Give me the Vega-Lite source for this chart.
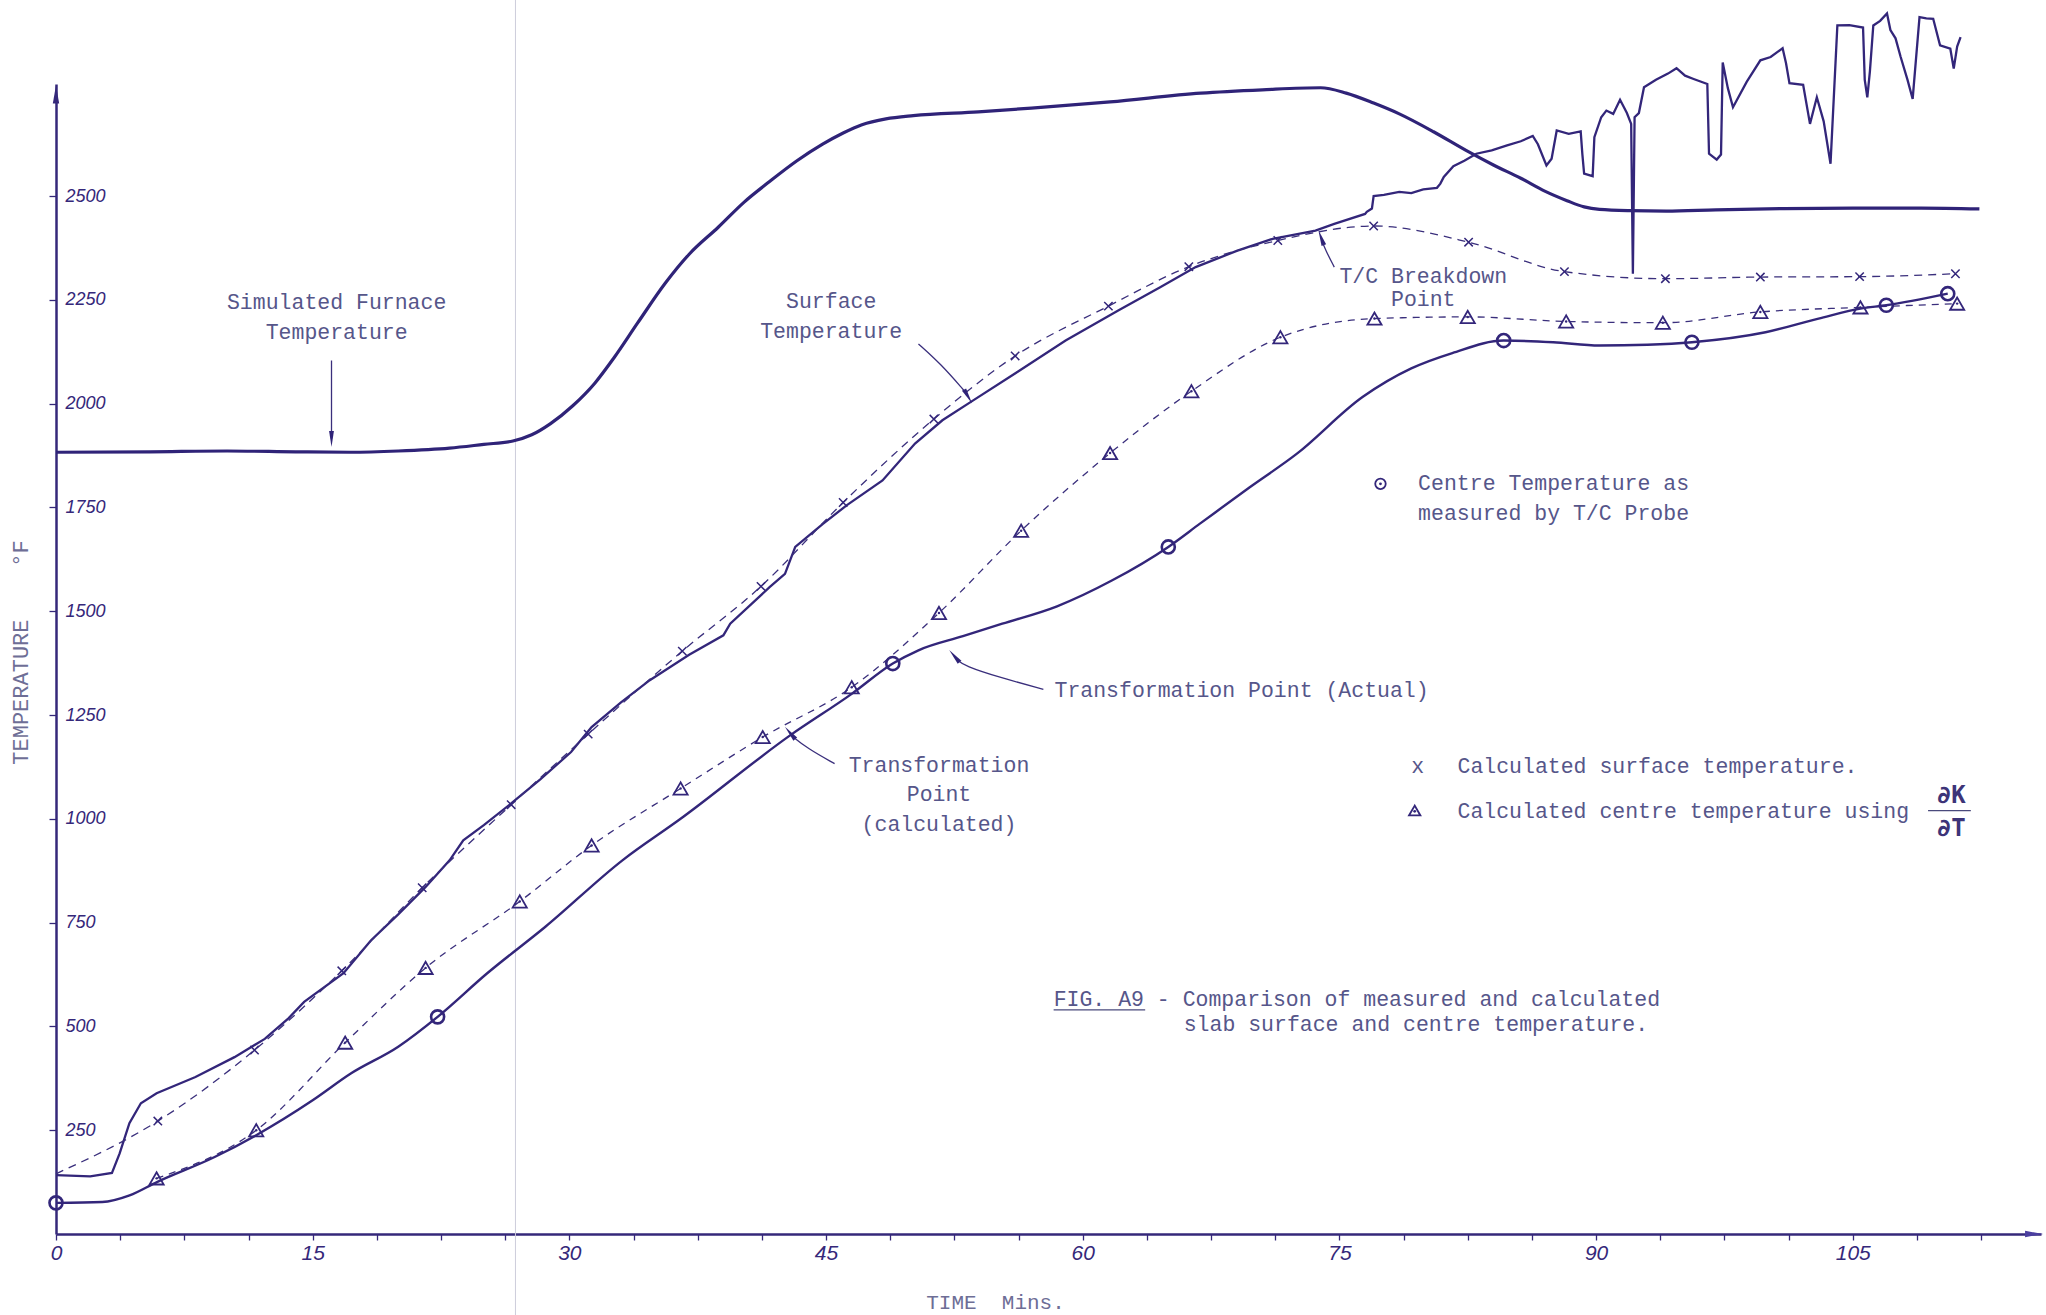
{
  "$schema": "https://vega.github.io/schema/vega-lite/v6.json",
  "width": 1985,
  "height": 1150,
  "autosize": {"type": "none"},
  "padding": {"left": 56, "top": 84, "right": 5, "bottom": 81},
  "background": "white",
  "config": {"view": {"stroke": null}, "axis": {"grid": false}},
  "datasets": {
    "crease": [{"x": 26.85, "y": -200, "y2": 2975}],
    "furnace": [
      {"x": 0, "y": 1883}, {"x": 5.5, "y": 1884}, {"x": 10, "y": 1886}, {"x": 14, "y": 1884}, {"x": 17.2, "y": 1883},
      {"x": 20, "y": 1886}, {"x": 23, "y": 1893}, {"x": 25, "y": 1902}, {"x": 26.7, "y": 1910}, {"x": 27.8, "y": 1925},
      {"x": 28.9, "y": 1952}, {"x": 30.2, "y": 1995}, {"x": 31.5, "y": 2050}, {"x": 32.6, "y": 2110}, {"x": 34, "y": 2195},
      {"x": 35.6, "y": 2290}, {"x": 37, "y": 2360}, {"x": 38.7, "y": 2425}, {"x": 40.2, "y": 2485}, {"x": 41.7, "y": 2535},
      {"x": 43.3, "y": 2585}, {"x": 44.8, "y": 2625}, {"x": 46, "y": 2652}, {"x": 47.1, "y": 2672}, {"x": 48.5, "y": 2686},
      {"x": 50.1, "y": 2694}, {"x": 53.9, "y": 2703}, {"x": 57, "y": 2712}, {"x": 61.6, "y": 2727}, {"x": 66.9, "y": 2748},
      {"x": 70.5, "y": 2756}, {"x": 73.9, "y": 2761}, {"x": 75.4, "y": 2748}, {"x": 77, "y": 2724}, {"x": 78.5, "y": 2698},
      {"x": 80.5, "y": 2655}, {"x": 82.4, "y": 2610}, {"x": 84, "y": 2575}, {"x": 85.6, "y": 2543}, {"x": 87, "y": 2512},
      {"x": 88.3, "y": 2489}, {"x": 89.3, "y": 2474}, {"x": 90.2, "y": 2468}, {"x": 92, "y": 2465}, {"x": 94.1, "y": 2464},
      {"x": 97, "y": 2467}, {"x": 101, "y": 2470}, {"x": 105, "y": 2471}, {"x": 109, "y": 2471}, {"x": 112.4, "y": 2469}
    ],
    "surf_meas": [
      {"x": 0, "y": 142}, {"x": 2.0, "y": 139}, {"x": 3.27, "y": 147}, {"x": 3.72, "y": 194}, {"x": 4.29, "y": 267},
      {"x": 4.96, "y": 315}, {"x": 5.88, "y": 339}, {"x": 8.15, "y": 378}, {"x": 10.43, "y": 426}, {"x": 12.2, "y": 470},
      {"x": 13.6, "y": 520}, {"x": 14.5, "y": 559}, {"x": 16.8, "y": 628}, {"x": 18.4, "y": 707}, {"x": 20, "y": 770},
      {"x": 21.6, "y": 836}, {"x": 23.0, "y": 900}, {"x": 23.8, "y": 948}, {"x": 25, "y": 985}, {"x": 26.6, "y": 1037},
      {"x": 28.3, "y": 1095}, {"x": 30.1, "y": 1161}, {"x": 31.3, "y": 1221}, {"x": 33, "y": 1280}, {"x": 34.7, "y": 1334},
      {"x": 37, "y": 1395}, {"x": 39.0, "y": 1442}, {"x": 39.4, "y": 1470}, {"x": 41.7, "y": 1558}, {"x": 42.6, "y": 1590},
      {"x": 43.2, "y": 1655}, {"x": 44.8, "y": 1710}, {"x": 46.2, "y": 1755}, {"x": 48.3, "y": 1815}, {"x": 50.2, "y": 1904},
      {"x": 51.8, "y": 1960}, {"x": 53.6, "y": 2008}, {"x": 56.2, "y": 2077}, {"x": 59.0, "y": 2152}, {"x": 62.1, "y": 2225},
      {"x": 64.5, "y": 2280}, {"x": 66.6, "y": 2329}, {"x": 69, "y": 2368}, {"x": 71.1, "y": 2397}, {"x": 73.6, "y": 2417},
      {"x": 74.7, "y": 2433}, {"x": 76.5, "y": 2457}, {"x": 76.6, "y": 2462}, {"x": 76.9, "y": 2470}, {"x": 77.0, "y": 2500},
      {"x": 77.6, "y": 2503}, {"x": 78.5, "y": 2510}, {"x": 79.2, "y": 2507}, {"x": 79.9, "y": 2516}, {"x": 80.7, "y": 2520},
      {"x": 80.9, "y": 2530}, {"x": 81.1, "y": 2546}, {"x": 81.66, "y": 2572}, {"x": 82.3, "y": 2585}, {"x": 83.0, "y": 2602},
      {"x": 83.9, "y": 2610}, {"x": 84.8, "y": 2622}, {"x": 85.6, "y": 2632}, {"x": 86.3, "y": 2645}, {"x": 86.6, "y": 2625},
      {"x": 87.1, "y": 2574}, {"x": 87.4, "y": 2590}, {"x": 87.7, "y": 2658}, {"x": 88.4, "y": 2650}, {"x": 89.1, "y": 2656},
      {"x": 89.2, "y": 2600}, {"x": 89.3, "y": 2554}, {"x": 89.8, "y": 2548}, {"x": 89.9, "y": 2642}, {"x": 90.3, "y": 2690},
      {"x": 90.6, "y": 2706}, {"x": 91.0, "y": 2698}, {"x": 91.4, "y": 2732}, {"x": 91.8, "y": 2700}, {"x": 92.05, "y": 2674},
      {"x": 92.15, "y": 2313}, {"x": 92.25, "y": 2690}, {"x": 92.5, "y": 2700}, {"x": 92.8, "y": 2762}, {"x": 93.5, "y": 2780},
      {"x": 94.2, "y": 2795}, {"x": 94.7, "y": 2808}, {"x": 95.2, "y": 2790}, {"x": 95.7, "y": 2782}, {"x": 96.5, "y": 2770},
      {"x": 96.6, "y": 2602}, {"x": 97.05, "y": 2588}, {"x": 97.3, "y": 2600}, {"x": 97.4, "y": 2822}, {"x": 97.7, "y": 2760},
      {"x": 98.0, "y": 2714}, {"x": 98.8, "y": 2775}, {"x": 99.6, "y": 2827}, {"x": 100.2, "y": 2835}, {"x": 100.9, "y": 2856},
      {"x": 101.1, "y": 2820}, {"x": 101.3, "y": 2772}, {"x": 102.1, "y": 2768}, {"x": 102.5, "y": 2674}, {"x": 102.9, "y": 2738},
      {"x": 103.3, "y": 2680}, {"x": 103.7, "y": 2578}, {"x": 104.1, "y": 2911}, {"x": 104.8, "y": 2912}, {"x": 105.6, "y": 2906},
      {"x": 105.7, "y": 2780}, {"x": 105.85, "y": 2738}, {"x": 106.0, "y": 2800}, {"x": 106.2, "y": 2911}, {"x": 106.6, "y": 2922},
      {"x": 107.0, "y": 2940}, {"x": 107.2, "y": 2900}, {"x": 107.5, "y": 2880}, {"x": 107.8, "y": 2835}, {"x": 108.2, "y": 2780},
      {"x": 108.5, "y": 2734}, {"x": 108.9, "y": 2931}, {"x": 109.3, "y": 2928}, {"x": 109.7, "y": 2927}, {"x": 110.1, "y": 2863},
      {"x": 110.7, "y": 2855}, {"x": 110.9, "y": 2807}, {"x": 111.1, "y": 2860}, {"x": 111.3, "y": 2883}
    ],
    "surf_calc": [
      {"x": 0, "y": 145}, {"x": 5.95, "y": 272}, {"x": 11.6, "y": 443}, {"x": 16.7, "y": 634}, {"x": 21.4, "y": 834},
      {"x": 26.6, "y": 1034}, {"x": 31.1, "y": 1204}, {"x": 36.6, "y": 1404}, {"x": 41.2, "y": 1560}, {"x": 46.0, "y": 1762},
      {"x": 51.3, "y": 1963}, {"x": 56.05, "y": 2115}, {"x": 61.5, "y": 2235}, {"x": 66.2, "y": 2330}, {"x": 71.4, "y": 2393},
      {"x": 77.0, "y": 2428}, {"x": 82.55, "y": 2389}, {"x": 88.15, "y": 2318}, {"x": 94.05, "y": 2301}, {"x": 99.6, "y": 2305},
      {"x": 105.4, "y": 2306}, {"x": 111.0, "y": 2313}
    ],
    "centre_calc": [
      {"x": 5.88, "y": 134}, {"x": 11.7, "y": 250}, {"x": 16.9, "y": 461}, {"x": 21.6, "y": 641}, {"x": 27.1, "y": 801},
      {"x": 31.3, "y": 936}, {"x": 36.5, "y": 1073}, {"x": 41.3, "y": 1197}, {"x": 46.5, "y": 1317}, {"x": 51.6, "y": 1496},
      {"x": 56.4, "y": 1694}, {"x": 61.6, "y": 1881}, {"x": 66.35, "y": 2030}, {"x": 71.55, "y": 2160}, {"x": 77.05, "y": 2205},
      {"x": 82.5, "y": 2209}, {"x": 88.25, "y": 2198}, {"x": 93.9, "y": 2195}, {"x": 99.6, "y": 2221}, {"x": 105.45, "y": 2232},
      {"x": 111.1, "y": 2241}
    ],
    "centre_meas": [
      {"x": 0, "y": 75}, {"x": 2.7, "y": 77}, {"x": 4.3, "y": 93}, {"x": 5.9, "y": 125}, {"x": 9.3, "y": 186},
      {"x": 11.7, "y": 238}, {"x": 15.0, "y": 322}, {"x": 17.25, "y": 387}, {"x": 20.0, "y": 451}, {"x": 22.3, "y": 523},
      {"x": 25.2, "y": 628}, {"x": 28.6, "y": 740}, {"x": 33.1, "y": 900}, {"x": 36.5, "y": 1000}, {"x": 42.9, "y": 1201},
      {"x": 46.5, "y": 1301}, {"x": 48.9, "y": 1374}, {"x": 50.4, "y": 1406}, {"x": 53, "y": 1440}, {"x": 55.3, "y": 1470},
      {"x": 58.5, "y": 1512}, {"x": 61.7, "y": 1574}, {"x": 65.0, "y": 1655}, {"x": 66.85, "y": 1711}, {"x": 69.7, "y": 1797},
      {"x": 72.5, "y": 1879}, {"x": 76.35, "y": 2016}, {"x": 79.2, "y": 2085}, {"x": 81.6, "y": 2122}, {"x": 84.6, "y": 2152},
      {"x": 87.5, "y": 2148}, {"x": 90.2, "y": 2140}, {"x": 93, "y": 2142}, {"x": 95.6, "y": 2148}, {"x": 99.9, "y": 2172},
      {"x": 103, "y": 2205}, {"x": 105.45, "y": 2229}, {"x": 106.96, "y": 2237}, {"x": 110.55, "y": 2265}
    ],
    "centre_circles": [
      {"x": 0, "y": 75}, {"x": 22.3, "y": 523}, {"x": 48.9, "y": 1374}, {"x": 65.0, "y": 1655}, {"x": 84.6, "y": 2152},
      {"x": 95.6, "y": 2148}, {"x": 106.96, "y": 2237}, {"x": 110.55, "y": 2265}
    ],
    "arrows": [
      {"id": "furnace", "o": 1, "x": 16.1, "y": 2104}, {"id": "furnace", "o": 2, "x": 16.1, "y": 2000}, {"id": "furnace", "o": 3, "x": 16.1, "y": 1915},
      {"id": "surface", "o": 1, "x": 50.4, "y": 2144}, {"id": "surface", "o": 2, "x": 51.7, "y": 2096}, {"id": "surface", "o": 3, "x": 53.1, "y": 2030},
      {"id": "tc", "o": 1, "x": 74.7, "y": 2329}, {"id": "tc", "o": 2, "x": 74.2, "y": 2369}, {"id": "tc", "o": 3, "x": 73.95, "y": 2395},
      {"id": "actual", "o": 1, "x": 57.7, "y": 1312}, {"id": "actual", "o": 2, "x": 55.2, "y": 1340}, {"id": "actual", "o": 3, "x": 53.1, "y": 1368}, {"id": "actual", "o": 4, "x": 52.6, "y": 1385},
      {"id": "calc", "o": 1, "x": 45.5, "y": 1133}, {"id": "calc", "o": 2, "x": 43.9, "y": 1170}, {"id": "calc", "o": 3, "x": 43.0, "y": 1200}
    ],
    "labels_center": [
      {"x": 16.4, "y": 2243, "text": "Simulated Furnace"}, {"x": 16.4, "y": 2170, "text": "Temperature"},
      {"x": 45.3, "y": 2245, "text": "Surface"}, {"x": 45.3, "y": 2172, "text": "Temperature"},
      {"x": 79.9, "y": 2306, "text": "T/C Breakdown"}, {"x": 79.9, "y": 2250, "text": "Point"},
      {"x": 51.6, "y": 1127, "text": "Transformation"}, {"x": 51.6, "y": 1058, "text": "Point"}, {"x": 51.6, "y": 986, "text": "(calculated)"}
    ],
    "labels_left": [
      {"x": 79.6, "y": 1807, "text": "Centre Temperature as"}, {"x": 79.6, "y": 1735, "text": "measured by T/C Probe"},
      {"x": 58.35, "y": 1307, "text": "Transformation Point (Actual)"},
      {"x": 79.2, "y": 1125, "text": "x"},
      {"x": 81.9, "y": 1125, "text": "Calculated surface temperature."},
      {"x": 81.9, "y": 1016, "text": "Calculated centre temperature using"},
      {"x": 58.3, "y": 563, "text": "FIG. A9 - Comparison of measured and calculated"},
      {"x": 65.9, "y": 503, "text": "slab surface and centre temperature."}
    ],
    "fraction": [{"x": 110.75, "y": 1054, "text": "∂K"}, {"x": 110.75, "y": 976, "text": "∂T"}],
    "hrules": [{"x": 58.3, "x2": 63.65, "y": 540}, {"x": 109.4, "x2": 111.9, "y": 1020}]
  },
  "encoding": {
    "x": {
      "field": "x", "type": "quantitative",
      "scale": {"domain": [0, 116], "nice": false, "zero": false},
      "axis": {
        "title": "TIME\u00a0\u00a0Mins.",
        "values": [0, 3.75, 7.5, 11.25, 15, 18.75, 22.5, 26.25, 30, 33.75, 37.5, 41.25, 45, 48.75, 52.5, 56.25, 60, 63.75, 67.5, 71.25, 75, 78.75, 82.5, 86.25, 90, 93.75, 97.5, 101.25, 105, 108.75, 112.5],
        "labelExpr": "datum.value % 15 === 0 ? datum.label : ''",
        "labelOverlap": false, "labelFlush": false,
        "domainColor": "#35287a", "domainWidth": 2.5,
        "tickColor": "#35287a", "tickWidth": 1.3, "tickSize": 6,
        "labelFont": "Liberation Sans", "labelFontStyle": "italic", "labelFontSize": 21, "labelColor": "#35287a", "labelPadding": 2,
        "titleFont": "Liberation Mono", "titleFontSize": 21, "titleFontWeight": "normal", "titleColor": "#6e6e96",
        "titleX": 939, "titleY": 74, "titleAlign": "center", "titleBaseline": "alphabetic"
      }
    },
    "y": {
      "field": "y", "type": "quantitative",
      "scale": {"domain": [0, 2770], "nice": false, "zero": false},
      "axis": {
        "title": "TEMPERATURE\u00a0\u00a0\u00a0\u00a0°F",
        "values": [250, 500, 750, 1000, 1250, 1500, 1750, 2000, 2250, 2500],
        "format": "d",
        "domainColor": "#35287a", "domainWidth": 2.5,
        "tickColor": "#35287a", "tickWidth": 1.3, "tickSize": 7,
        "labelAlign": "left", "labelBaseline": "middle", "labelPadding": -16,
        "labelFont": "Liberation Sans", "labelFontStyle": "italic", "labelFontSize": 18, "labelColor": "#35287a",
        "titleFont": "Liberation Mono", "titleFontSize": 22, "titleFontWeight": "normal", "titleColor": "#6e6e96",
        "titleAngle": 270, "titleX": -36, "titleY": 568, "titleAlign": "center", "titleBaseline": "middle"
      }
    }
  },
  "layer": [
    {"data": {"name": "crease"}, "mark": {"type": "rule", "color": "#cdcddb", "strokeWidth": 1}, "encoding": {"y2": {"field": "y2"}}},
    {"data": {"name": "furnace"}, "mark": {"type": "line", "color": "#2f2378", "strokeWidth": 3.2, "interpolate": "monotone"}, "encoding": {}},
    {"data": {"name": "surf_meas"}, "mark": {"type": "line", "color": "#33267a", "strokeWidth": 2.3}, "encoding": {}},
    {"data": {"name": "surf_calc"}, "mark": {"type": "line", "color": "#3a2f7c", "strokeWidth": 1.3, "strokeDash": [8, 6], "interpolate": "monotone"}, "encoding": {}},
    {"data": {"name": "surf_calc"}, "transform": [{"filter": "datum.x > 0"}], "mark": {"type": "point", "shape": "M-1,-1L1,1M-1,1L1,-1", "filled": false, "color": "#33267a", "strokeWidth": 1.5, "size": 70, "opacity": 1}, "encoding": {}},
    {"data": {"name": "centre_calc"}, "mark": {"type": "line", "color": "#3a2f7c", "strokeWidth": 1.3, "strokeDash": [7, 6], "interpolate": "monotone"}, "encoding": {}},
    {"data": {"name": "centre_calc"}, "mark": {"type": "point", "shape": "triangle-up", "filled": false, "color": "#33267a", "strokeWidth": 1.8, "size": 200, "opacity": 1}, "encoding": {}},
    {"data": {"name": "centre_calc"}, "mark": {"type": "point", "shape": "circle", "filled": true, "color": "#33267a", "size": 6, "opacity": 1}, "encoding": {}},
    {"data": {"name": "centre_meas"}, "mark": {"type": "line", "color": "#33267a", "strokeWidth": 2.4, "interpolate": "monotone"}, "encoding": {}},
    {"data": {"name": "centre_circles"}, "mark": {"type": "point", "shape": "circle", "filled": false, "color": "#33267a", "strokeWidth": 2.6, "size": 170, "opacity": 1}, "encoding": {}},
    {"data": {"name": "arrows"}, "mark": {"type": "line", "color": "#3a2f7c", "strokeWidth": 1.3, "interpolate": "basis"}, "encoding": {"detail": {"field": "id"}, "order": {"field": "o"}}},
    {"data": {"values": [{"x": 16.1, "y": 1915}]}, "mark": {"type": "point", "shape": "M0,-1L0.3,1L-0.3,1Z", "filled": true, "color": "#2f2378", "size": 260, "angle": 180, "opacity": 1}, "encoding": {}},
    {"data": {"values": [{"x": 53.3, "y": 2017}]}, "mark": {"type": "point", "shape": "M0,-1L0.3,1L-0.3,1Z", "filled": true, "color": "#2f2378", "size": 260, "angle": 150, "opacity": 1}, "encoding": {}},
    {"data": {"values": [{"x": 73.93, "y": 2400}]}, "mark": {"type": "point", "shape": "M0,-1L0.3,1L-0.3,1Z", "filled": true, "color": "#2f2378", "size": 260, "angle": 340, "opacity": 1}, "encoding": {}},
    {"data": {"values": [{"x": 52.5, "y": 1392}]}, "mark": {"type": "point", "shape": "M0,-1L0.3,1L-0.3,1Z", "filled": true, "color": "#2f2378", "size": 260, "angle": 320, "opacity": 1}, "encoding": {}},
    {"data": {"values": [{"x": 42.9, "y": 1207}]}, "mark": {"type": "point", "shape": "M0,-1L0.3,1L-0.3,1Z", "filled": true, "color": "#2f2378", "size": 260, "angle": 320, "opacity": 1}, "encoding": {}},
    {"data": {"values": [{"x": 0, "y": 2745}]}, "mark": {"type": "point", "shape": "M0,-1L0.35,1L-0.35,1Z", "filled": true, "color": "#35287a", "size": 330, "angle": 0, "opacity": 1}, "encoding": {}},
    {"data": {"values": [{"x": 115.6, "y": 0}]}, "mark": {"type": "point", "shape": "M0,-1L0.35,1L-0.35,1Z", "filled": true, "color": "#4b3fa0", "size": 330, "angle": 90, "opacity": 1}, "encoding": {}},
    {"data": {"name": "hrules"}, "mark": {"type": "rule", "color": "#4a4a7c", "strokeWidth": 1.3}, "encoding": {"x2": {"field": "x2"}}},
    {"data": {"name": "labels_center"}, "mark": {"type": "text", "font": "Liberation Mono", "fontSize": 21.5, "color": "#56568a", "align": "center", "baseline": "middle"}, "encoding": {"text": {"field": "text"}}},
    {"data": {"name": "labels_left"}, "mark": {"type": "text", "font": "Liberation Mono", "fontSize": 21.5, "color": "#56568a", "align": "left", "baseline": "middle"}, "encoding": {"text": {"field": "text"}}},
    {"data": {"name": "fraction"}, "mark": {"type": "text", "font": "DejaVu Sans Mono", "fontSize": 24, "fontWeight": "bold", "color": "#3d3478", "align": "center", "baseline": "middle"}, "encoding": {"text": {"field": "text"}}},
    {"data": {"values": [{"x": 77.4, "y": 1807}]}, "mark": {"type": "point", "shape": "circle", "filled": false, "color": "#33267a", "strokeWidth": 1.8, "size": 110, "opacity": 1}, "encoding": {}},
    {"data": {"values": [{"x": 77.4, "y": 1807}, {"x": 79.4, "y": 1018}]}, "mark": {"type": "point", "shape": "circle", "filled": true, "color": "#33267a", "size": 8, "opacity": 1}, "encoding": {}},
    {"data": {"values": [{"x": 79.4, "y": 1020}]}, "mark": {"type": "point", "shape": "triangle-up", "filled": false, "color": "#33267a", "strokeWidth": 1.8, "size": 130, "opacity": 1}, "encoding": {}}
  ]
}
